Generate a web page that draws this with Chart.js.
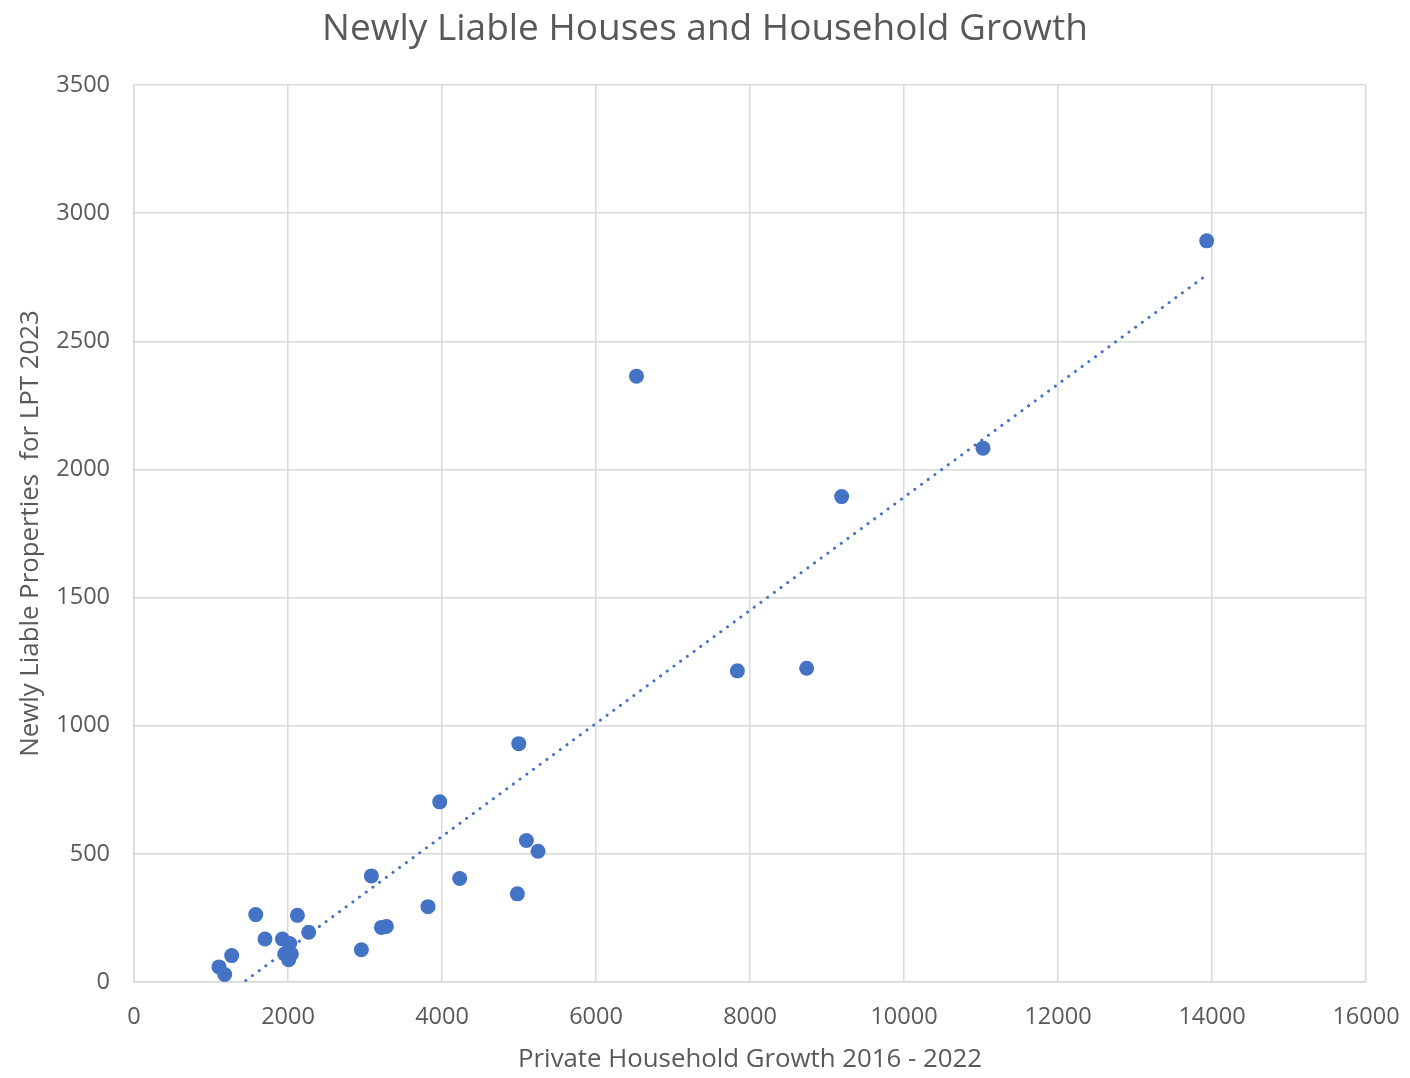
<!DOCTYPE html>
<html>
<head>
<meta charset="utf-8">
<script src="https://cdn.jsdelivr.net/npm/chart.js@4"></script>
<style>
  html, body { margin: 0; padding: 0; background: #ffffff; }
  #wrap { width: 1410px; height: 1078px; }
</style>
</head>
<body>
<div id="wrap"><canvas id="c" width="1410" height="1078"></canvas></div>
<script>
// Private household growth 2016-2022 per area (x)
const householdGrowth = [1104, 1178, 1269, 1581, 1701, 1927, 1957, 2009, 2022, 2044,
  2122, 2269, 2953, 3083, 3213, 3278, 3818, 3970, 4230, 4979,
  4997, 5096, 5247, 6526, 7836, 8736, 9190, 11026, 13931];
// Newly liable properties for LPT 2023 per area (y)
const newlyLiable = [59, 29, 103, 263, 168, 168, 109, 87, 150, 109,
  260, 194, 126, 414, 213, 217, 294, 703, 404, 344,
  930, 552, 510, 2364, 1214, 1224, 1894, 2083, 2892];
const xTicks = [0, 2000, 4000, 6000, 8000, 10000, 12000, 14000, 16000];
const yTicks = [0, 500, 1000, 1500, 2000, 2500, 3000, 3500];

const chartTitle = 'Newly Liable Houses and Household Growth';
const xTitle = 'Private Household Growth 2016 - 2022';
const yTitle = 'Newly Liable Properties  for LPT 2023';

const points = householdGrowth.map((x, i) => ({ x, y: newlyLiable[i] }));

// Least-squares linear trendline across the data range
const n = points.length;
const mx = householdGrowth.reduce((a, b) => a + b, 0) / n;
const my = newlyLiable.reduce((a, b) => a + b, 0) / n;
let sxy = 0, sxx = 0;
for (let i = 0; i < n; i++) {
  sxy += (householdGrowth[i] - mx) * (newlyLiable[i] - my);
  sxx += (householdGrowth[i] - mx) ** 2;
}
const slope = sxy / sxx;
const intercept = my - slope * mx;
const xMinData = Math.min(...householdGrowth);
const xMaxData = Math.max(...householdGrowth);
const trend = [
  { x: xMinData, y: intercept + slope * xMinData },
  { x: xMaxData, y: intercept + slope * xMaxData }
];

const textColor = '#595959';
const gridColor = '#d9d9d9';
const blue = '#4472C4';
const fam = '"Open Sans", "Liberation Sans", sans-serif';

new Chart(document.getElementById('c'), {
  type: 'scatter',
  data: {
    datasets: [
      {
        label: 'Areas',
        data: points,
        backgroundColor: blue,
        borderColor: blue,
        borderWidth: 0,
        pointRadius: 7.5,
        order: 1
      },
      {
        label: 'Linear trend',
        type: 'line',
        data: trend,
        borderColor: blue,
        borderWidth: 3,
        borderDash: [0.1, 8.2],
        borderCapStyle: 'round',
        pointRadius: 0,
        fill: false,
        order: 2
      }
    ]
  },
  options: {
    responsive: false,
    animation: false,
    layout: { padding: 0 },
    plugins: {
      legend: { display: false },
      tooltip: { enabled: false },
      title: {
        display: true,
        text: chartTitle,
        color: textColor,
        font: { family: fam, size: 37, weight: 'normal', lineHeight: 1.2 },
        padding: { top: 7, bottom: 33.6 }
      }
    },
    scales: {
      x: {
        type: 'linear',
        min: 0,
        max: 16000,
        afterBuildTicks: s => { s.ticks = xTicks.map(v => ({ value: v })); },
        afterFit: s => { s.height = 96; s.paddingLeft = 0; s.paddingRight = 44; },
        grid: { color: gridColor, lineWidth: 1.5, drawTicks: false },
        border: { color: gridColor, width: 1.5 },
        ticks: {
          color: textColor,
          padding: 21,
          font: { family: fam, size: 23.5 },
          maxRotation: 0,
          callback: v => String(v)
        },
        title: {
          display: true,
          text: xTitle,
          color: textColor,
          font: { family: fam, size: 25.8 },
          padding: { top: 3, bottom: 3 }
        }
      },
      y: {
        type: 'linear',
        min: 0,
        max: 3500,
        afterBuildTicks: s => { s.ticks = yTicks.map(v => ({ value: v })); },
        afterFit: s => { s.width = 134; s.paddingTop = 0; s.paddingBottom = 0; },
        grid: { color: gridColor, lineWidth: 1.5, drawTicks: false },
        border: { color: gridColor, width: 1.5 },
        ticks: {
          color: textColor,
          padding: 24,
          font: { family: fam, size: 23.5 },
          callback: v => String(v)
        },
        title: {
          display: true,
          text: yTitle,
          color: textColor,
          font: { family: fam, size: 25.8 },
          padding: { top: 15.5, bottom: 15.5 }
        }
      }
    }
  }
});
</script>
</body>
</html>
